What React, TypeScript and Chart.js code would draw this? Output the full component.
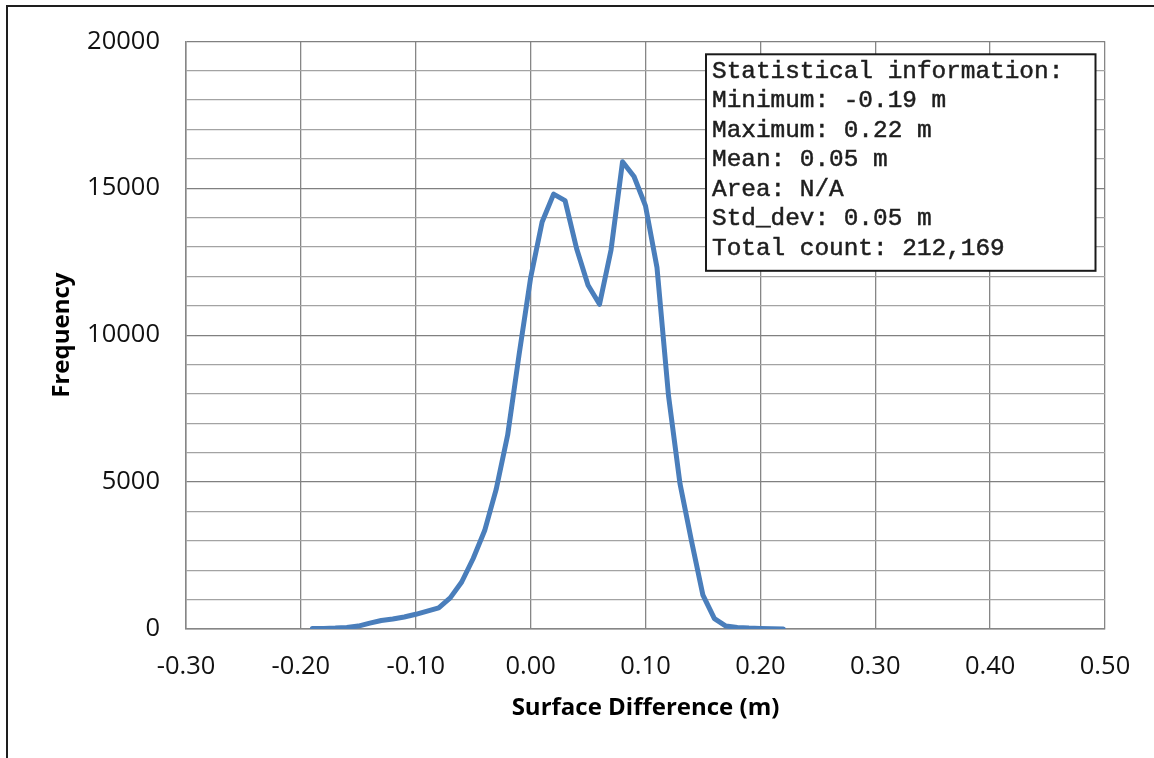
import React, { useEffect, useRef } from "react";
import { Chart, registerables } from "chart.js";

Chart.register(...registerables);

// ---- Data ----
const surfaceDifference = [
  -0.19, -0.18, -0.17, -0.16, -0.15, -0.14, -0.13, -0.12, -0.11, -0.1,
  -0.09, -0.08, -0.07, -0.06, -0.05, -0.04, -0.03, -0.02, -0.01, 0.0,
  0.01, 0.02, 0.03, 0.04, 0.05, 0.06, 0.07, 0.08, 0.09, 0.1,
  0.11, 0.12, 0.13, 0.14, 0.15, 0.16, 0.17, 0.18, 0.19, 0.2,
  0.21, 0.22,
];

const frequency = [
  20, 20, 30, 50, 100, 200, 290, 340, 410, 500,
  610, 720, 1060, 1600, 2400, 3350, 4750, 6600, 9350, 11950,
  13850, 14800, 14580, 12950, 11700, 11050, 12900, 15900, 15400, 14400,
  12300, 7950, 4950, 3000, 1150, 350, 100, 50, 30, 20,
  10, 0,
];

const xAxisMin = -0.3;
const xAxisMax = 0.5;
const xTickStep = 0.1;
const yAxisMax = 20000;
const yMajorStep = 5000;
const yMinorStep = 1000;

const xAxisTitle = "Surface Difference (m)";
const yAxisTitle = "Frequency";

const statsLines = [
  "Statistical information:",
  "Minimum: -0.19 m",
  "Maximum: 0.22 m",
  "Mean: 0.05 m",
  "Area: N/A",
  "Std_dev: 0.05 m",
  "Total count: 212,169",
];

const statsBoxPlugin = {
  id: "statsBox",
  afterDraw(chart: any) {
    const { ctx, chartArea } = chart;
    const right = chartArea.right - 9.5;
    const top = chartArea.top + 13;
    const w = 389.5;
    const h = 216.5;
    const left = right - w;
    ctx.save();
    ctx.fillStyle = "#ffffff";
    ctx.fillRect(left, top, w, h);
    ctx.strokeStyle = "#1a1a1a";
    ctx.lineWidth = 2;
    ctx.strokeRect(left, top, w, h);
    ctx.font = "24.4px 'Liberation Mono', 'DejaVu Sans Mono', monospace";
    ctx.fillStyle = "#1e1e1e";
    ctx.strokeStyle = "#1e1e1e";
    ctx.lineWidth = 0.5;
    ctx.textBaseline = "alphabetic";
    ctx.textAlign = "left";
    statsLines.forEach((line, i) => {
      const y = top + 23.7 + i * 29.45;
      ctx.fillText(line, left + 6, y);
      ctx.strokeText(line, left + 6, y);
    });
    ctx.restore();
  },
};

export default function App() {
  const canvasRef = useRef<HTMLCanvasElement | null>(null);

  useEffect(() => {
    if (!canvasRef.current) return;
    const points = surfaceDifference.map((x, i) => ({ x, y: frequency[i] }));
    const chart = new Chart(canvasRef.current, {
      type: "line",
      data: {
        datasets: [
          {
            data: points,
            borderColor: "#4a7ebb",
            borderWidth: 5,
            pointRadius: 0,
            tension: 0,
            fill: false,
            borderJoinStyle: "round",
            borderCapStyle: "round",
          },
        ],
      },
      options: {
        animation: false,
        responsive: false,
        maintainAspectRatio: false,
        layout: { padding: { left: 0, top: 40, right: 49, bottom: 0 } },
        plugins: {
          legend: { display: false },
          tooltip: { enabled: false },
        },
        scales: {
          x: {
            type: "linear",
            min: xAxisMin,
            max: xAxisMax,
            ticks: {
              stepSize: xTickStep,
              autoSkip: false,
              maxRotation: 0,
              callback: (v: any) => Number(v).toFixed(2),
              font: { family: "'Open Sans'", size: 25.5 },
              color: "#111111",
              padding: 22,
            },
            grid: { color: "#868686", lineWidth: 1.3, drawTicks: false },
            border: { color: "#868686", width: 1.5 },
            title: {
              display: true,
              text: xAxisTitle,
              font: { family: "'Open Sans'", size: 24, weight: "bold" },
              color: "#000000",
              padding: { top: 0, bottom: 35.6 },
            },
            afterFit: (s: any) => {
              s.height = 129;
            },
          },
          y: {
            type: "linear",
            min: 0,
            max: yAxisMax,
            ticks: {
              stepSize: yMinorStep,
              autoSkip: false,
              callback: (v: any) => (Number(v) % yMajorStep === 0 ? String(v) : ""),
              font: { family: "'Open Sans'", size: 25.5 },
              color: "#111111",
              padding: 26,
            },
            grid: {
              color: (c: any) => (c.tick && c.tick.value % yMajorStep === 0 ? "#808080" : "#a3a3a3"),
              lineWidth: 1.3,
              drawTicks: false,
            },
            border: { color: "#868686", width: 1.5 },
            title: {
              display: true,
              text: yAxisTitle,
              font: { family: "'Open Sans'", size: 24, weight: "bold" },
              color: "#000000",
              padding: { top: 48, bottom: 0 },
            },
            afterFit: (s: any) => {
              s.width = 186;
            },
          },
        },
      },
      plugins: [statsBoxPlugin],
    } as any);
    return () => chart.destroy();
  }, []);

  return (
    <div
      style={{
        position: "absolute",
        left: 0,
        top: 0,
        width: 1154,
        height: 758,
        overflow: "hidden",
        background: "#ffffff",
      }}
    >
      <canvas ref={canvasRef} width={1154} height={758} style={{ display: "block" }} />
      <div
        style={{
          position: "absolute",
          left: 6,
          top: 5,
          width: 1400,
          height: 1000,
          borderLeft: "2px solid #1e1e1e",
          borderTop: "2px solid #1e1e1e",
          pointerEvents: "none",
        }}
      />
    </div>
  );
}
